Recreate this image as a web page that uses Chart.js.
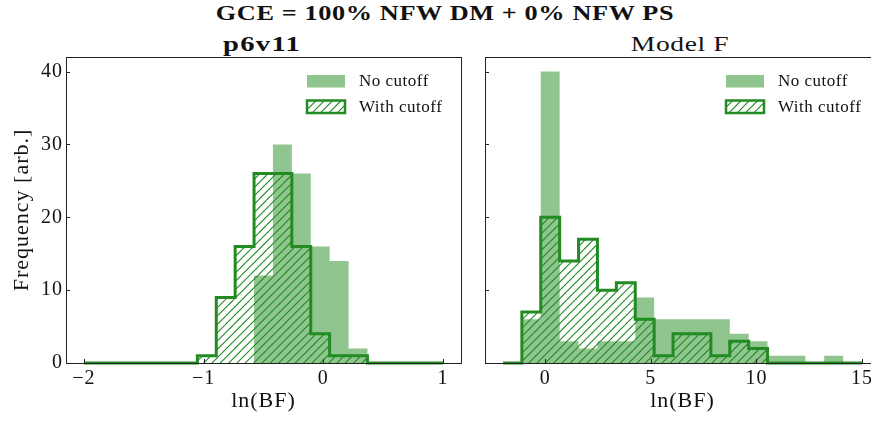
<!DOCTYPE html>
<html>
<head>
<meta charset="utf-8">
<script src="https://cdn.jsdelivr.net/npm/chart.js@4.4.0/dist/chart.umd.min.js"></script>
<style>
    html, body { margin: 0; padding: 0; background: #fff; overflow: hidden; }
    body { width: 871px; height: 423px; position: relative; font-family: "Liberation Serif", serif; color: #111; }
    canvas { position: absolute; top: 0; }
    .title { position: absolute; white-space: nowrap; text-align: center; line-height: 1; }
    #suptitle { left: 0; width: 890px; top: 3px; font-size: 21px; font-weight: bold; letter-spacing: 0.5px; transform: scaleX(1.25); }
    #leftTitle { left: 162px; width: 200px; top: 33px; font-size: 22px; font-weight: bold; letter-spacing: 1px; transform: scaleX(1.3); }
    #rightTitle { left: 580px; width: 200px; top: 33px; font-size: 22px; letter-spacing: 0.5px; transform: scaleX(1.25); }
</style>
</head>
<body>
<div id="suptitle" class="title">GCE = 100% NFW DM + 0% NFW PS</div>
<div id="leftTitle" class="title">p6v11</div>
<div id="rightTitle" class="title">Model F</div>
<canvas id="left-chart" width="475" height="423" style="left:0"></canvas>
<canvas id="right-chart" width="420" height="423" style="left:475px"></canvas>
<script>
// Histogram data: 19 equal bins over each range
const binCount = 19;
const leftRange = [-2, 1];
const rightRange = [-2, 15];

const leftNoCutoff   = [0, 0, 0, 0, 0, 0, 0, 0, 0, 12, 30, 26, 16, 14, 2, 0, 0, 0, 0];
const leftWithCutoff = [0, 0, 0, 0, 0, 0, 1, 9, 16, 26, 26, 16, 4, 1, 1, 0, 0, 0, 0];
const rightNoCutoff   = [0, 6, 40, 3, 2, 3, 3, 9, 6, 6, 6, 6, 4, 3, 1, 1, 0, 1, 0];
const rightWithCutoff = [0, 7, 20, 14, 17, 10, 11, 6, 1, 4, 4, 1, 3, 2, 0, 0, 0, 0, 0];

const leftXTicks = [-2, -1, 0, 1];
const rightXTicks = [0, 5, 10, 15];
const yTicks = [0, 10, 20, 30, 40];
const legendLabels = ['No cutoff', 'With cutoff'];

const GREEN = '#228B22';
const GREEN_FILL = 'rgba(34, 139, 34, 0.5)';
const SERIF = '"Liberation Serif", serif';

function binEdges(range) {
    const step = (range[1] - range[0]) / binCount;
    const edges = [];
    for (let i = 0; i <= binCount; i++) edges.push(range[0] + i * step);
    return edges;
}

// points for a stepped outline: each count holds from its left edge to the next edge
function stepPoints(range, counts) {
    const edges = binEdges(range);
    const pts = [{ x: edges[0], y: 0 }];
    counts.forEach((c, i) => pts.push({ x: edges[i], y: c }));
    pts.push({ x: edges[counts.length], y: counts[counts.length - 1] });
    pts.push({ x: edges[counts.length], y: 0 });
    return pts;
}

function makeHatch(ctx) {
    const size = 25;
    const c = document.createElement('canvas');
    c.width = size;
    c.height = size;
    const g = c.getContext('2d');
    g.strokeStyle = GREEN;
    g.lineWidth = 1.1;
    g.beginPath();
    for (let i = -3; i <= 3; i++) {
        g.moveTo(i * size / 3, size);
        g.lineTo(i * size / 3 + size, 0);
    }
    g.stroke();
    return ctx.createPattern(c, 'repeat');
}

function minusSign(v) {
    return String(v).replace('-', '\u2212');
}

// frame, inward ticks and legend
const panelDecor = {
    id: 'panelDecor',
    beforeDraw(chart) {
        // Computer Modern runs wider than Liberation Serif
        chart.ctx.letterSpacing = '1px';
    },
    afterDatasetsDraw(chart) {
        const { ctx, chartArea: a, scales } = chart;
        ctx.save();
        ctx.strokeStyle = '#222';
        ctx.lineWidth = 1;
        ctx.beginPath();
        scales.x.ticks.forEach(t => {
            const px = Math.round(scales.x.getPixelForValue(t.value)) + 0.5;
            ctx.moveTo(px, a.bottom);
            ctx.lineTo(px, a.bottom - 4);
        });
        scales.y.ticks.forEach(t => {
            const py = Math.round(scales.y.getPixelForValue(t.value)) + 0.5;
            ctx.moveTo(a.left, py);
            ctx.lineTo(a.left + 4, py);
        });
        ctx.stroke();
        ctx.strokeRect(Math.round(a.left) + 0.5, Math.round(a.top) + 0.5,
            Math.round(a.right - a.left), Math.round(a.bottom - a.top));
        ctx.restore();
    },
    afterDraw(chart) {
        const { ctx, chartArea: a } = chart;
        const bx = a.right - 154;
        ctx.save();
        ctx.fillStyle = GREEN_FILL;
        ctx.fillRect(bx, a.top + 18, 38, 12.5);
        ctx.fillStyle = chart.$hatch;
        ctx.fillRect(bx, a.top + 43.5, 38, 12.5);
        ctx.strokeStyle = GREEN;
        ctx.lineWidth = 2.5;
        ctx.strokeRect(bx, a.top + 43.5, 38, 12.5);
        ctx.fillStyle = '#111';
        ctx.font = '17px ' + SERIF;
        ctx.letterSpacing = '0.5px';
        ctx.textBaseline = 'middle';
        ctx.fillText(legendLabels[0], a.right - 102, a.top + 24.5);
        ctx.fillText(legendLabels[1], a.right - 102, a.top + 50.5);
        ctx.restore();
    }
};

function createPanel(canvasId, range, noCut, withCut, xTicks, xMin, xMax, cfg) {
    const canvas = document.getElementById(canvasId);
    const hatch = makeHatch(canvas.getContext('2d'));
    const chart = new Chart(canvas, {
        type: 'line',
        data: {
            datasets: [{
                label: legendLabels[1],
                data: stepPoints(range, withCut),
                stepped: true,
                borderColor: GREEN,
                borderWidth: 3,
                backgroundColor: hatch,
                fill: 'origin',
                pointRadius: 0,
                order: 0,
                clip: 4
            }, {
                label: legendLabels[0],
                data: stepPoints(range, noCut),
                stepped: true,
                borderColor: 'rgba(0,0,0,0)',
                borderWidth: 0,
                backgroundColor: GREEN_FILL,
                fill: 'origin',
                pointRadius: 0,
                order: 1
            }]
        },
        options: {
            responsive: false,
            animation: false,
            devicePixelRatio: 1,
            layout: { padding: { top: 57, right: cfg.padRight, bottom: 0, left: 0 } },
            plugins: { legend: { display: false }, tooltip: { enabled: false } },
            scales: {
                x: {
                    type: 'linear',
                    min: xMin,
                    max: xMax,
                    afterBuildTicks: s => { s.ticks = xTicks.map(v => ({ value: v })); },
                    afterFit: s => { s.height = 60; },
                    grid: { display: false, drawTicks: false },
                    border: { display: false },
                    ticks: {
                        padding: 4,
                        color: '#111',
                        font: { family: SERIF, size: 20 },
                        maxRotation: 0,
                        callback: v => minusSign(v)
                    },
                    title: {
                        display: true,
                        text: 'ln(BF)',
                        color: '#111',
                        font: { family: SERIF, size: 22 },
                        padding: { top: 0, bottom: 9 }
                    }
                },
                y: {
                    min: 0,
                    max: 42,
                    afterBuildTicks: s => { s.ticks = yTicks.map(v => ({ value: v })); },
                    afterFit: s => { s.width = cfg.yWidth; },
                    grid: { display: false, drawTicks: false },
                    border: { display: false },
                    ticks: {
                        display: cfg.showY,
                        padding: 3,
                        color: '#111',
                        font: { family: SERIF, size: 20 }
                    },
                    title: {
                        display: cfg.showY,
                        text: 'Frequency [arb.]',
                        color: '#111',
                        font: { family: SERIF, size: 22 },
                        padding: { top: 9, bottom: 0 }
                    }
                }
            }
        },
        plugins: [panelDecor]
    });
    chart.$hatch = hatch;
    chart.draw();
    return chart;
}

createPanel('left-chart', leftRange, leftNoCutoff, leftWithCutoff, leftXTicks, -2.15, 1.15,
    { padRight: 14, yWidth: 66, showY: true });
createPanel('right-chart', rightRange, rightNoCutoff, rightWithCutoff, rightXTicks, -2.85, 15.85,
    { padRight: 15, yWidth: 10, showY: false });
</script>
</body>
</html>
